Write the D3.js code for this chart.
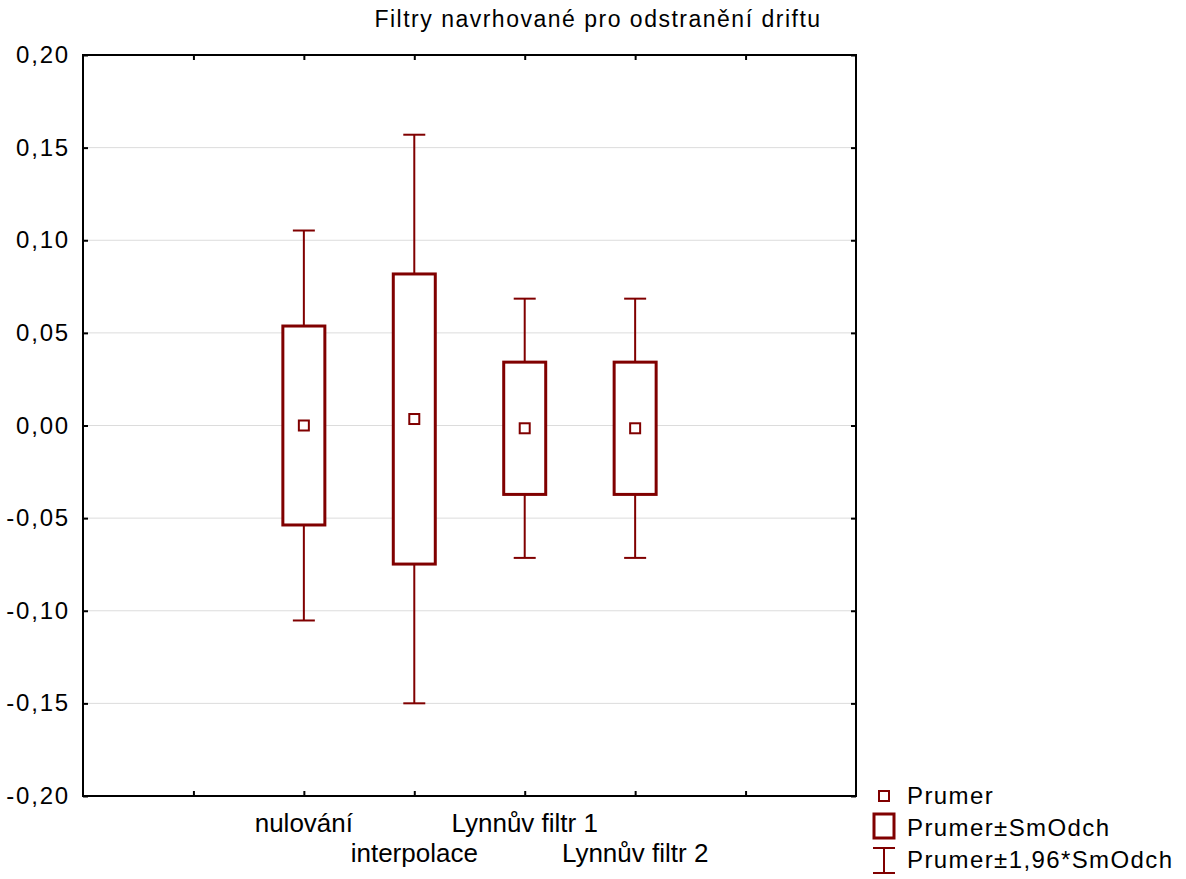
<!DOCTYPE html>
<html>
<head>
<meta charset="utf-8">
<script src="https://cdn.jsdelivr.net/npm/d3@7"></script>
<style>
  body { margin: 0; background: #fff; }
  text { font-family: "Liberation Sans", Arial, sans-serif; fill: #000; }
</style>
</head>
<body>
<script>
// data
var categories = ["nulování", "interpolace", "Lynnův filtr 1", "Lynnův filtr 2"];
var catPos = [2, 3, 4, 5];           // slot on the x axis (0..7)
var means = [0.0, 0.0035, -0.0015, -0.0015];
var sds = [0.0537, 0.0783, 0.0357, 0.0357];
var yTicks = [-0.20, -0.15, -0.10, -0.05, 0.00, 0.05, 0.10, 0.15, 0.20];
var xTicks = [1, 2, 3, 4, 5, 6];
var legendItems = ["Prumer", "Prumer±SmOdch", "Prumer±1,96*SmOdch"];
var title = "Filtry navrhované pro odstranění driftu";

var w = 1186, h = 879;
var plotL = 83, plotR = 856, plotT = 55, plotB = 796;
var red = "#800000";

var svg = d3.select("body").append("svg")
  .attr("width", w)
  .attr("height", h);

var x = d3.scaleLinear().domain([0, 7]).range([plotL, plotR]);
var y = d3.scaleLinear().domain([-0.2, 0.2]).range([plotB, plotT]);
var fmt = v => d3.format(".2f")(v).replace(".", ",").replace("−", "-");

// grid lines
svg.append("g")
  .selectAll("line")
  .data(yTicks.slice(1, -1))
  .enter().append("line")
  .attr("x1", plotL).attr("x2", plotR)
  .attr("y1", d => y(d)).attr("y2", d => y(d))
  .attr("stroke", "#dcdcdc")
  .attr("stroke-width", 1);

// axes (ticks inward, like the original)
var yAxis = svg.append("g")
  .attr("transform", `translate(${plotL},0)`)
  .call(d3.axisRight(y).tickValues(yTicks).tickSize(5).tickFormat(""));
var yAxisR = svg.append("g")
  .attr("transform", `translate(${plotR},0)`)
  .call(d3.axisLeft(y).tickValues(yTicks).tickSize(5).tickFormat(""));
var xAxis = svg.append("g")
  .attr("transform", `translate(0,${plotB})`)
  .call(d3.axisTop(x).tickValues(xTicks).tickSize(5).tickFormat(""));
var xAxisT = svg.append("g")
  .attr("transform", `translate(0,${plotT})`)
  .call(d3.axisBottom(x).tickValues(xTicks).tickSize(5).tickFormat(""));
[yAxis, yAxisR, xAxis, xAxisT].forEach(g => {
  g.select(".domain").remove();
  g.selectAll(".tick line").attr("stroke", "#000").attr("stroke-width", 2);
});

// frame
svg.append("rect")
  .attr("x", plotL).attr("y", plotT)
  .attr("width", plotR - plotL).attr("height", plotB - plotT)
  .attr("fill", "none")
  .attr("stroke", "#000")
  .attr("stroke-width", 2);

// y tick labels
svg.append("g")
  .selectAll("text")
  .data(yTicks)
  .enter().append("text")
  .attr("x", 70)
  .attr("y", d => y(d) + 8)
  .attr("text-anchor", "end")
  .style("font-size", "24px")
  .style("letter-spacing", "1.8px")
  .text(d => fmt(d));

// category labels, staggered on two rows
svg.append("g")
  .selectAll("text")
  .data(categories)
  .enter().append("text")
  .attr("x", (d, i) => x(catPos[i]))
  .attr("y", (d, i) => i % 2 == 0 ? 832 : 862)
  .attr("text-anchor", "middle")
  .style("font-size", "26px")
  .text(d => d);

// title
svg.append("text")
  .attr("x", 598)
  .attr("y", 27)
  .attr("text-anchor", "middle")
  .style("font-size", "23px")
  .style("letter-spacing", "1.5px")
  .text(title);

// whiskers: mean ± 1.96*sd
var boxes = svg.append("g").selectAll("g")
  .data(categories.map((c, i) => ({ c: c, p: catPos[i], m: means[i], s: sds[i] })))
  .enter().append("g");

boxes.append("line")
  .attr("x1", d => x(d.p)).attr("x2", d => x(d.p))
  .attr("y1", d => y(d.m + 1.96 * d.s)).attr("y2", d => y(d.m - 1.96 * d.s))
  .attr("stroke", red).attr("stroke-width", 2);
[1.96, -1.96].forEach(k => {
  boxes.append("line")
    .attr("x1", d => x(d.p) - 11).attr("x2", d => x(d.p) + 11)
    .attr("y1", d => y(d.m + k * d.s)).attr("y2", d => y(d.m + k * d.s))
    .attr("stroke", red).attr("stroke-width", 2);
});

// box: mean ± sd
boxes.append("rect")
  .attr("x", d => x(d.p) - 21)
  .attr("width", 42)
  .attr("y", d => y(d.m + d.s))
  .attr("height", d => y(d.m - d.s) - y(d.m + d.s))
  .attr("fill", "#fff")
  .attr("stroke", red).attr("stroke-width", 3);

// mean marker
boxes.append("rect")
  .attr("x", d => x(d.p) - 5)
  .attr("y", d => y(d.m) - 5)
  .attr("width", 10).attr("height", 10)
  .attr("fill", "#fff")
  .attr("stroke", red).attr("stroke-width", 2);

// legend
var legend = svg.append("g").attr("transform", "translate(884,0)");
var ly = [796, 826, 860];
legend.append("rect")
  .attr("x", -5).attr("y", ly[0] - 5).attr("width", 10).attr("height", 10)
  .attr("fill", "#fff").attr("stroke", red).attr("stroke-width", 2);
legend.append("rect")
  .attr("x", -10).attr("y", ly[1] - 12).attr("width", 20).attr("height", 24)
  .attr("fill", "#fff").attr("stroke", red).attr("stroke-width", 3);
legend.append("line")
  .attr("x1", 0).attr("x2", 0).attr("y1", ly[2] - 12).attr("y2", ly[2] + 13)
  .attr("stroke", red).attr("stroke-width", 2);
[-12, 13].forEach(o => {
  legend.append("line")
    .attr("x1", -11).attr("x2", 11).attr("y1", ly[2] + o).attr("y2", ly[2] + o)
    .attr("stroke", red).attr("stroke-width", 2);
});
legend.selectAll("text.leg")
  .data(legendItems)
  .enter().append("text")
  .attr("class", "leg")
  .attr("x", 23)
  .attr("y", (d, i) => [804, 836, 868][i])
  .style("font-size", "24px")
  .style("letter-spacing", "1.4px")
  .text(d => d);
</script>
</body>
</html>
